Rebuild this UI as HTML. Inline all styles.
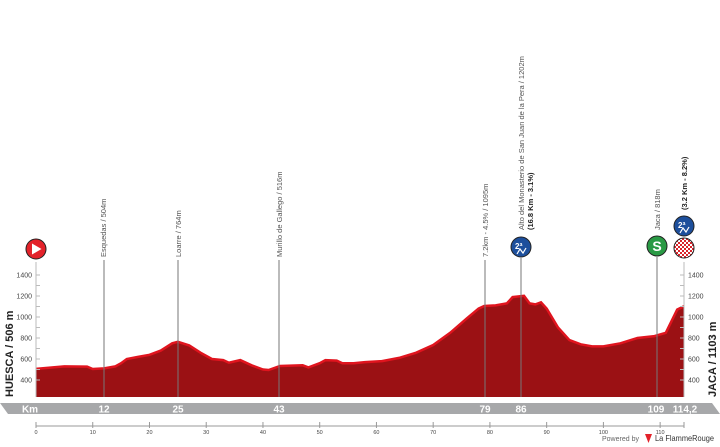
<!DOCTYPE html>
<html><head><meta charset="utf-8"><style>
html,body{margin:0;padding:0;background:#fff;width:720px;height:447px;overflow:hidden}
svg{display:block;font-family:"Liberation Sans",sans-serif}
</style></head><body>
<svg id="s" width="720" height="447" viewBox="0 0 720 447">
<polygon points="0,403 712,403 720,414 8,414" fill="#a7a8aa"/>
<g fill="#fff" font-weight="bold" font-size="10" text-anchor="middle" font-family="Liberation Sans Narrow,Liberation Sans,sans-serif">
<text x="30" y="412.5">Km</text><text x="104" y="412.5">12</text><text x="178" y="412.5">25</text><text x="279" y="412.5">43</text><text x="485" y="412.5">79</text><text x="521" y="412.5">86</text><text x="656" y="412.5">109</text><text x="685" y="412.5">114,2</text>
</g>
<g id="prof"></g>
<g id="ax" stroke="#999" stroke-width="1" fill="none"></g>
<g id="tx" fill="#444" font-size="7"></g>
<g fill="#555" font-size="7.5">
<text transform="translate(106,257) rotate(-90)">Esquedas / 504m</text>
<text transform="translate(181,257) rotate(-90)">Loarre / 764m</text>
<text transform="translate(282,257) rotate(-90)">Murillo de Gallego / 516m</text>
<text transform="translate(488,257) rotate(-90)">7.2km - 4.5% / 1095m</text>
<text transform="translate(524,230) rotate(-90)">Alto del Monasterio de San Juan de la Pera / 1202m</text>
<text transform="translate(533,230) rotate(-90)" font-weight="bold" fill="#222">(16.8 Km - 3.1%)</text>
<text transform="translate(660,230) rotate(-90)">Jaca / 818m</text>
<text transform="translate(687,210) rotate(-90)" font-weight="bold" fill="#222">(3.2 Km - 8.2%)</text>
</g>
<g font-weight="bold" font-size="11" fill="#222">
<text transform="translate(13,397) rotate(-90)">HUESCA / 506 m</text>
<text transform="translate(716,397) rotate(-90)">JACA / 1103 m</text>
</g>
<circle cx="36" cy="249" r="10" fill="#e3222a" stroke="#222" stroke-width="1"/>
<polygon points="32,243.5 32,254.5 41.5,249" fill="#fff"/>
<circle cx="521" cy="247" r="10" fill="#1d4f9c" stroke="#222" stroke-width="1"/>
<text x="515" y="249" fill="#fff" font-size="8" font-weight="bold">2ª</text>
<polyline points="517,254 520,249 523,253 526,248" stroke="#fff" fill="none" stroke-width="1.2"/>
<circle cx="657" cy="246" r="10" fill="#2a9a45" stroke="#222" stroke-width="1"/>
<text x="657" y="251" fill="#fff" font-size="14" font-weight="bold" text-anchor="middle">S</text>
<circle cx="684" cy="226" r="10" fill="#1d4f9c" stroke="#222" stroke-width="1"/>
<text x="678" y="228" fill="#fff" font-size="8" font-weight="bold">2ª</text>
<polyline points="680,233 683,228 686,232 689,227" stroke="#fff" fill="none" stroke-width="1.2"/>
<defs><pattern id="ck" width="4" height="4" patternUnits="userSpaceOnUse"><rect width="4" height="4" fill="#fff"/><rect width="2" height="2" fill="#d9242b"/><rect x="2" y="2" width="2" height="2" fill="#d9242b"/></pattern></defs>
<circle cx="684" cy="248" r="10" fill="url(#ck)" stroke="#222" stroke-width="1"/>
<text x="602" y="441" fill="#666" font-size="7">Powered by</text>
<polygon points="645,434 652,434 648.5,443" fill="#e3222a"/>
<text x="655" y="441" fill="#333" font-size="8.5" textLength="59" lengthAdjust="spacingAndGlyphs">La FlammeRouge</text>
</svg>
<script>
const X=k=>36+k*5.674, Y=e=>275+(1400-e)*0.105;
const d=[[0,506],[3,520],[5,530],[9,528],[10,505],[12,510],[14,530],[15,560],[16,600],[18,620],[20,640],[22,680],[24,750],[25,764],[27,730],[29,660],[31,600],[33,590],[34,565],[36,590],[38,540],[40,500],[41,495],[43,533],[47,540],[48,520],[50,560],[51,590],[53,585],[54,560],[56,560],[58,570],[61,580],[64,610],[67,660],[70,733],[73,850],[76,990],[78,1080],[79,1105],[81,1110],[83,1130],[84,1190],[86,1202],[87,1130],[88,1120],[89,1140],[90,1080],[92,900],[94,780],[96,740],[98,720],[100,720],[103,750],[106,800],[109,818],[111,850],[113,1070],[114.2,1103]];
let p=d.map(a=>X(a[0]).toFixed(1)+','+Y(a[1]).toFixed(1)).join(' ');
let ns="http://www.w3.org/2000/svg",g=document.getElementById('prof');
let poly=document.createElementNS(ns,'polygon');poly.setAttribute('points',X(0)+',397 '+p+' '+X(114.2)+',397');poly.setAttribute('fill','#9b1114');g.appendChild(poly);
let pl=document.createElementNS(ns,'polyline');pl.setAttribute('points',p);pl.setAttribute('fill','none');pl.setAttribute('stroke','#e0141e');pl.setAttribute('stroke-width','2.5');g.appendChild(pl);
let ax=document.getElementById('ax'),tx=document.getElementById('tx');
function ln(x1,y1,x2,y2,c,w){let l=document.createElementNS(ns,'line');l.setAttribute('x1',x1);l.setAttribute('y1',y1);l.setAttribute('x2',x2);l.setAttribute('y2',y2);if(c)l.setAttribute('stroke',c);if(w)l.setAttribute('stroke-width',w);ax.appendChild(l);}
[[104,260],[178,260],[279,260],[485,260],[521,258],[657,257]].forEach(a=>ln(a[0],a[1],a[0],397,'#777',1));
ln(36,262,36,397,'#bbb');ln(684,262,684,397,'#bbb');
for(let e=400;e<=1400;e+=100){let y=Y(e);ln(36,y,40,y,'#bbb');ln(680,y,684,y,'#bbb');
if(e%200==0){let t=document.createElementNS(ns,'text');t.setAttribute('x',32);t.setAttribute('y',y+2.5);t.setAttribute('text-anchor','end');t.textContent=e;tx.appendChild(t);
let t2=document.createElementNS(ns,'text');t2.setAttribute('x',688);t2.setAttribute('y',y+2.5);t2.textContent=e;tx.appendChild(t2);}}
ln(36,426,684,426,'#999');
for(let k=0;k<=110;k+=10){let x=X(k);ln(x,422,x,428,'#999');let t=document.createElementNS(ns,'text');t.setAttribute('x',x);t.setAttribute('y',434);t.setAttribute('text-anchor','middle');t.setAttribute('font-size','5.5');t.textContent=k;tx.appendChild(t);}
ln(684,422,684,428,'#999');
</script>
</body></html>
